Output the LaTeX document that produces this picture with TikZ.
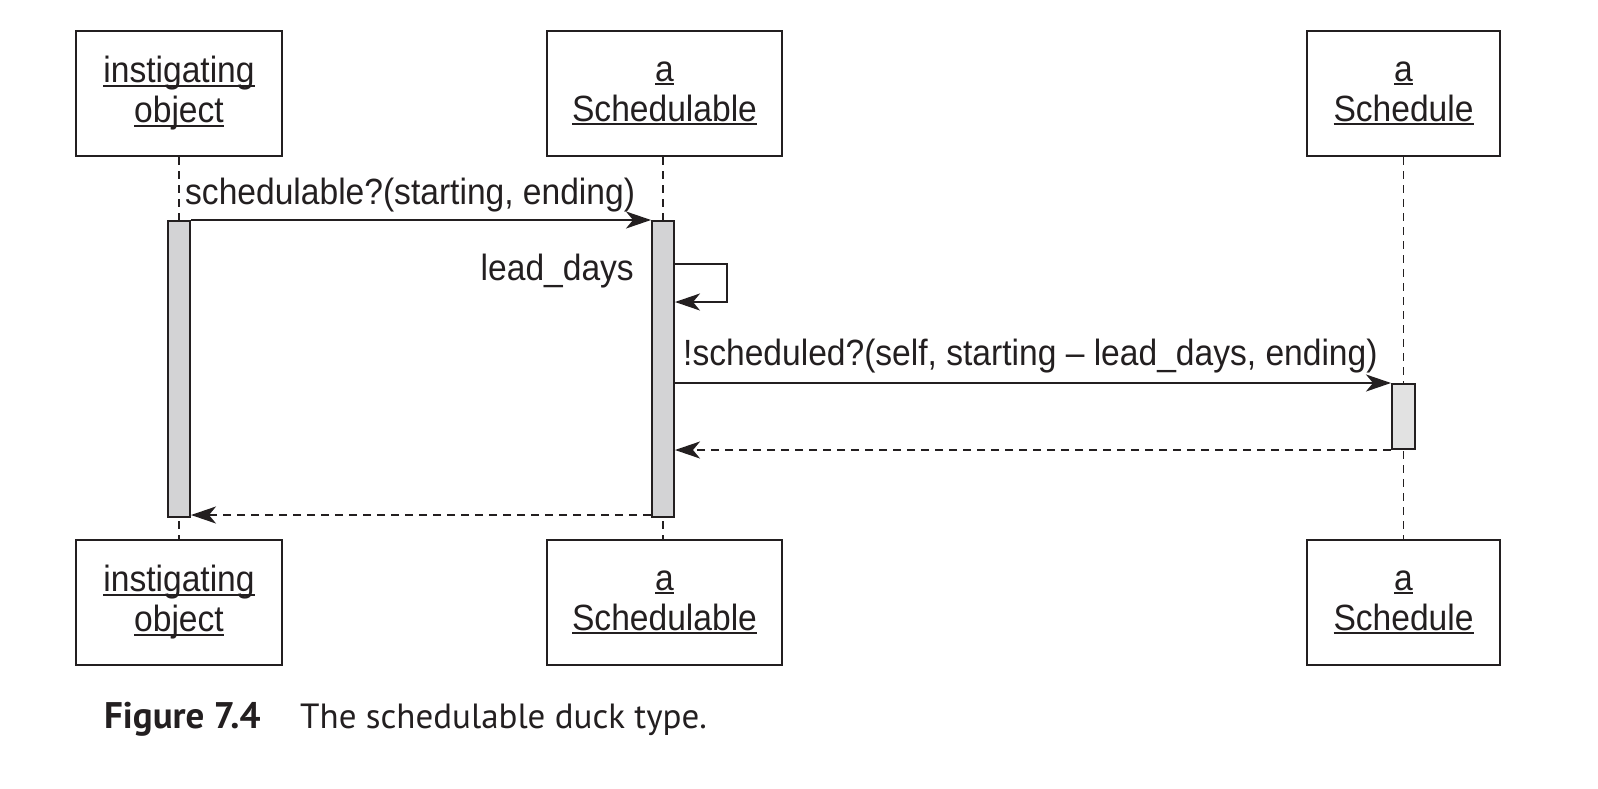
\documentclass[tikz,border=0pt]{standalone}
\usepackage{fontspec}
\setmainfont[FakeStretch=0.92]{Liberation Sans}
\newfontfamily\capfont{PT Sans}
\usetikzlibrary{arrows.meta}
\definecolor{ink}{HTML}{231F20}
\definecolor{barfill}{HTML}{D3D3D5}
\definecolor{barfilltwo}{HTML}{E2E2E2}
\newcommand\uln[1]{{\setbox0\hbox{#1}\rlap{\rule[-0.1em]{\wd0}{0.055em}}\box0}}
\tikzset{
  objbox/.style={draw=ink, line width=2pt, fill=white, minimum height=125pt, inner sep=0pt, align=center, text=ink,
    font=\fontsize{36.5}{40}\selectfont},
  lifeline/.style={draw=ink, line width=1.7pt, dash pattern=on 8pt off 6pt},
  actbar/.style={draw=ink, line width=2pt, fill=barfill, minimum width=22pt, inner sep=0pt},
  msg/.style={draw=ink, line width=2pt, -{Stealth[length=25pt,width=17pt,inset=7pt]}},
  retmsg/.style={msg, dash pattern=on 8pt off 6pt},
  lbl/.style={text=ink, inner sep=0pt, font=\fontsize{36.5}{40}\selectfont},
  captxt/.style={text=ink, inner sep=0pt, font=\capfont\fontsize{35}{40}\selectfont}
}
\begin{document}
\begin{tikzpicture}[x=1pt,y=-1pt]
\useasboundingbox (0,0) rectangle (1598,788);
% object boxes
\node[objbox, minimum width=206pt] (o1t) at (179,93.5) {\uln{instigating}\\\uln{object}};
\node[objbox, minimum width=235pt] (o2t) at (664.5,93.5) {\uln{a}\\\uln{Schedulable}};
\node[objbox, minimum width=193pt] (o3t) at (1403.5,93.5) {\uln{a}\\\uln{Schedule}};
\node[objbox, minimum width=206pt] (o1b) at (179,602.5) {\uln{instigating}\\\uln{object}};
\node[objbox, minimum width=235pt] (o2b) at (664.5,602.5) {\uln{a}\\\uln{Schedulable}};
\node[objbox, minimum width=193pt] (o3b) at (1403.5,602.5) {\uln{a}\\\uln{Schedule}};
% lifelines
\draw[lifeline] (o1t.south) -- (o1b.north);
\draw[lifeline] ([xshift=-1.5pt]o2t.south) -- ([xshift=-1.5pt]o2b.north);
\draw[lifeline] (o3t.south) -- (o3b.north);
% activation bars
\node[actbar, minimum height=296pt] (b1) at (179,369) {};
\node[actbar, minimum height=296pt] (b2) at (663,369) {};
\node[actbar, fill=barfilltwo, minimum width=23pt, minimum height=65pt] (b3) at (1403.5,416.5) {};
% messages
\draw[msg] (b1.north east) -- (b2.north west);
\node[lbl, anchor=base west] (l1) at (185,204) {schedulable?(starting, ending)};
\draw[msg] ([yshift=-44pt]b2.north east) -- ++(52,0) -- ++(0,38) -- ([yshift=-82pt]b2.north east);
\node[lbl, anchor=base east] (l2) at (634,280) {lead\_days};
\draw[msg] (b2.east |- b3.north west) -- (b3.north west);
\node[lbl, anchor=base west] (l3) at (683,365) {!scheduled?(self, starting -- lead\_days, ending)};
\draw[retmsg] (b3.south west) -- (b2.east |- b3.south west);
\draw[retmsg] ([yshift=3pt]b2.south west) -- ([yshift=3pt]b1.south east);
% caption
\node[captxt, anchor=base west] (c1) at (104,728) {\fontsize{37}{40}\selectfont\bfseries Figure 7.4};
\node[captxt, anchor=base west] (c2) at (300,728) {The schedulable duck type.};
\end{tikzpicture}
\end{document}
